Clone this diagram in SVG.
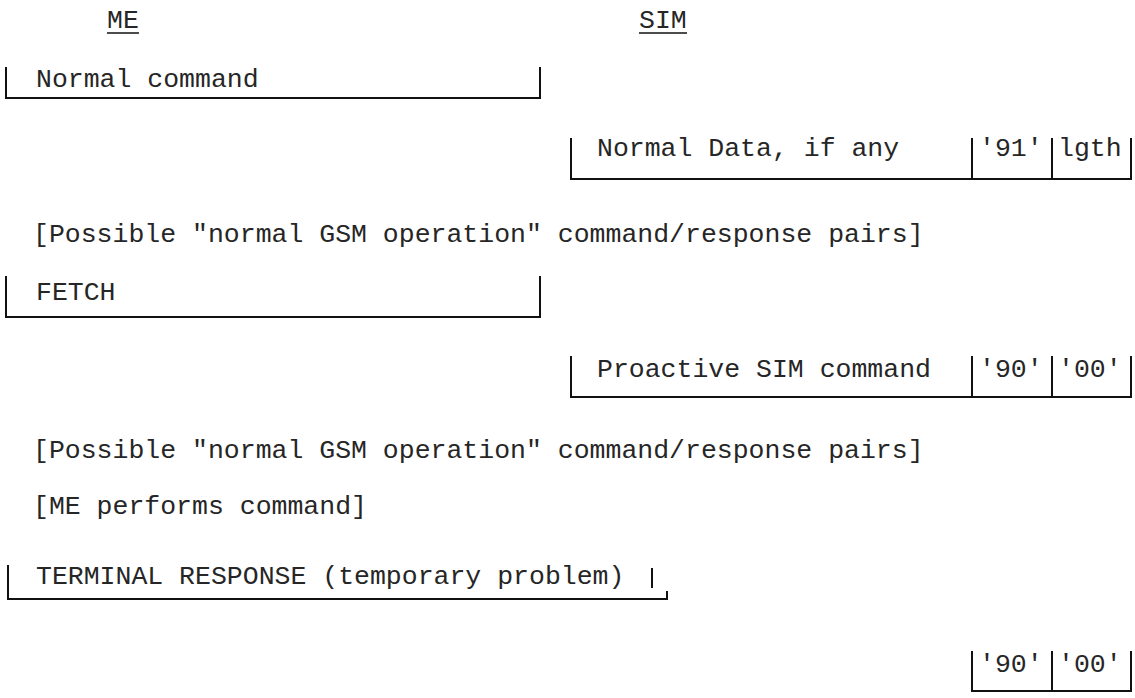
<svg xmlns="http://www.w3.org/2000/svg" width="1135" height="698" viewBox="0 0 1135 698">
<style>
text{font-family:"Liberation Mono","Courier New",monospace;font-size:26.5px;fill:#262626;white-space:pre}
.b{fill:none;stroke:#111;stroke-width:2}
.u{fill:none;stroke:#111;stroke-width:1.5}
</style>
<rect width="1135" height="698" fill="#fff"/>
<g id="headers">
<text x="107" y="28">ME</text>
<line class="u" x1="107" y1="33" x2="139" y2="33"/>
<text x="639" y="28">SIM</text>
<line class="u" x1="639" y1="33" x2="687" y2="33"/>
</g>
<g id="normal-command">
<path class="b" d="M6,67 V98 H540 V67"/>
<text x="36" y="87">Normal command</text>
</g>
<g id="normal-data">
<path class="b" d="M571,138 V179 H1131 V138 M972,138 V179 M1052,138 V179"/>
<text x="597" y="156">Normal Data, if any</text>
<text x="979" y="156">'91'</text>
<text x="1058" y="156">lgth</text>
</g>
<g id="note1"><text x="33" y="242">[Possible "normal GSM operation" command/response pairs]</text></g>
<g id="fetch">
<path class="b" d="M6,276 V317 H540 V276"/>
<text x="36" y="300">FETCH</text>
</g>
<g id="proactive">
<path class="b" d="M571,356 V397 H1131 V356 M972,356 V397 M1052,356 V397"/>
<text x="597" y="377">Proactive SIM command</text>
<text x="979" y="377">'90'</text>
<text x="1058" y="377">'00'</text>
</g>
<g id="note2"><text x="33" y="458">[Possible "normal GSM operation" command/response pairs]</text></g>
<g id="note3"><text x="33" y="514">[ME performs command]</text></g>
<g id="terminal-response">
<path class="b" d="M8,565 V599 H667 V591 M652,568 V588"/>
<text x="36" y="584">TERMINAL RESPONSE (temporary problem)</text>
</g>
<g id="final-status">
<path class="b" d="M972,651 V691 H1131 V651 M1052,651 V691"/>
<text x="979" y="672">'90'</text>
<text x="1058" y="672">'00'</text>
</g>
</svg>
